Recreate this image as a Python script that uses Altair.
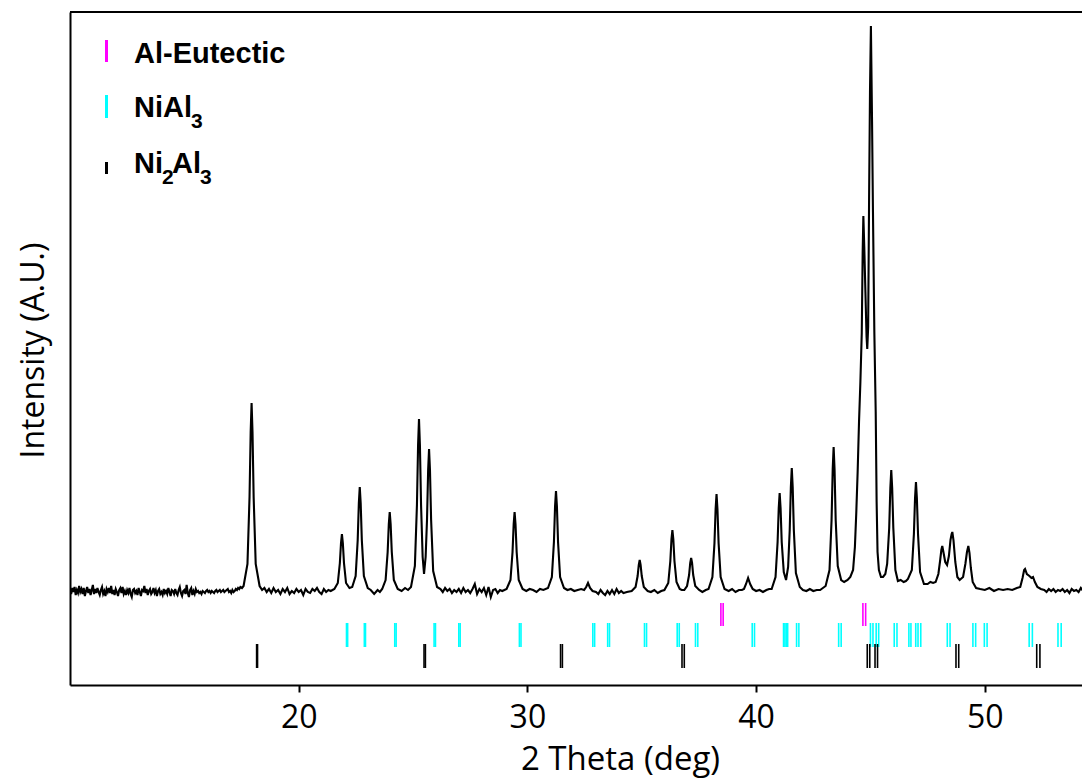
import altair as alt
import pandas as pd

# XRD scan: (2 theta in deg, intensity in arbitrary units)
scan_10_18 = [
    (10.00, 3), (10.05, -2), (10.10, 4), (10.15, 0), (10.20, 5), (10.25, -3), (10.30, 2),
    (10.35, -1), (10.40, 6), (10.45, 0), (10.50, 3), (10.55, -2), (10.60, 4), (10.65, -4),
    (10.70, 1), (10.75, 5), (10.80, -1), (10.85, 3), (10.90, -3), (10.95, 2), (11.00, 7),
    (11.05, -2), (11.10, 3), (11.15, -1), (11.20, 4), (11.25, 0), (11.30, -3), (11.35, 2),
    (11.40, 5), (11.45, -2), (11.50, 1), (11.55, -4), (11.60, 3), (11.65, 0), (11.70, 4),
    (11.75, -1), (11.80, 6), (11.85, -2), (11.90, 2), (11.95, -3), (12.00, 3), (12.05, 0),
    (12.10, -4), (12.15, 2), (12.20, 4), (12.25, -1), (12.30, 5), (12.35, -2), (12.40, 1),
    (12.45, -3), (12.50, 2), (12.55, -1), (12.60, 4), (12.65, -2), (12.70, -5), (12.75, 2),
    (12.80, 3), (12.85, -1), (12.90, 1), (12.95, -3), (13.00, 4), (13.05, 0), (13.10, -4),
    (13.15, 2), (13.20, 1), (13.25, 6), (13.30, -1), (13.35, 3), (13.40, -3), (13.45, 1),
    (13.50, 3), (13.55, -2), (13.60, 0), (13.65, 4), (13.70, -1), (13.75, 2), (13.80, -4),
    (13.85, 1), (13.90, 3), (13.95, -2), (14.00, 0), (14.05, -3), (14.10, 3), (14.15, -1),
    (14.20, 1), (14.25, -2), (14.30, 4), (14.35, 0), (14.40, -4), (14.45, 2), (14.50, 1),
    (14.55, -2), (14.60, 3), (14.65, -1), (14.70, -3), (14.75, 2), (14.80, 5), (14.85, -1),
    (14.90, -4), (14.95, 1), (15.00, 2), (15.05, -2), (15.10, 7), (15.15, -1), (15.20, -5),
    (15.25, 2), (15.30, 4), (15.35, -3), (15.40, 1), (15.45, -2), (15.50, 3), (15.55, 0),
    (15.60, 1), (15.65, -1), (15.70, 0), (15.75, -2), (15.80, 1), (15.85, 0), (15.90, -1),
    (15.95, 1), (16.00, 2), (16.05, 0), (16.10, 1), (16.15, -1), (16.20, 1), (16.25, 0),
    (16.30, -1), (16.35, 1), (16.40, 2), (16.45, 0), (16.50, 1), (16.55, 2), (16.60, 0),
    (16.65, 1), (16.70, 2), (16.75, 0), (16.80, 1), (16.85, 2), (16.90, 3), (16.95, 0),
    (17.00, 1), (17.05, -1), (17.10, 2), (17.15, 0), (17.20, 1), (17.25, 3), (17.30, 2),
    (17.35, 4), (17.40, 3), (17.45, 5), (17.52, 4),
    (17.59, 6), (17.76, 28), (17.85, 95), (17.90, 160), (17.94, 189), (17.98, 160), (18.03, 95),
    (18.12, 28), (18.29, 6),
]
scan_18_26 = [
    (18.40, 2), (18.5, 4), (18.6, 0), (18.7, 3), (18.8, -1), (18.9, 4), (19.0, 0), (19.1, 2),
    (19.2, -2), (19.3, 3), (19.4, 0), (19.5, 4), (19.6, -2), (19.7, 1), (19.8, -1), (19.9, 3),
    (20.0, 0), (20.1, 2), (20.2, -3), (20.3, 3), (20.4, 0), (20.5, -1), (20.6, 3), (20.7, 1),
    (20.8, 4), (20.9, 0), (21.0, -2), (21.1, 3), (21.2, 0), (21.3, 2), (21.4, 1),
    (21.56, 3), (21.71, 9), (21.80, 29), (21.85, 49), (21.89, 58), (21.93, 49), (21.98, 29),
    (22.07, 9), (22.22, 4),
    (22.34, 5), (22.49, 16), (22.58, 52), (22.63, 89), (22.67, 105), (22.71, 89), (22.76, 52),
    (22.85, 16), (23.02, 4),
    (23.15, 2), (23.3, -2), (23.45, 2), (23.55, 0),
    (23.65, 3), (23.80, 12), (23.89, 40), (23.94, 68), (23.98, 80), (24.02, 68), (24.07, 40),
    (24.16, 12), (24.33, 3),
    (24.5, 1), (24.65, 4), (24.78, 2),
    (24.91, 5), (25.08, 26), (25.17, 87), (25.22, 147), (25.26, 173), (25.30, 147), (25.35, 87),
    (25.42, 35), (25.48, 18), (25.55, 35), (25.61, 72), (25.66, 122), (25.70, 143), (25.74, 122),
    (25.79, 72), (25.88, 21), (26.05, 5),
]
scan_26_34 = [
    (26.2, 3), (26.3, 0), (26.4, 4), (26.5, 1), (26.6, 3), (26.7, -1), (26.8, 2), (26.9, 0),
    (27.0, 3), (27.1, -1), (27.2, 4), (27.3, 0), (27.4, 2), (27.5, -1), (27.6, 3), (27.7, 8),
    (27.8, -2), (27.9, 3), (28.0, 0), (28.1, 4), (28.2, -3), (28.3, 5), (28.4, -5), (28.5, 2),
    (28.6, 3), (28.7, -1), (28.8, 2), (28.9, 1),
    (29.09, 3), (29.26, 12), (29.35, 40), (29.40, 68), (29.44, 80), (29.48, 68), (29.53, 40),
    (29.62, 12), (29.79, 3),
    (29.95, 1), (30.1, 3), (30.25, 2), (30.4, 0), (30.55, 3), (30.7, 2),
    (30.90, 4), (31.07, 15), (31.16, 50), (31.21, 86), (31.25, 101), (31.29, 86), (31.34, 50),
    (31.43, 15), (31.60, 4),
    (31.75, 2), (31.9, 3), (32.05, 1), (32.2, 2), (32.35, 3),
    (32.48, 2), (32.57, 5), (32.65, 9), (32.74, 4), (32.85, 1),
    (33.0, 0), (33.1, -2), (33.2, 2), (33.3, -1), (33.4, -3), (33.5, 1), (33.6, -2), (33.7, 2),
    (33.8, -2), (33.9, 3), (34.0, -1), (34.1, 1), (34.2, -1), (34.35, 0),
]
scan_34_42 = [
    (34.56, 1), (34.73, 5), (34.82, 16), (34.87, 27), (34.91, 32), (34.95, 27), (35.00, 16),
    (35.09, 5), (35.26, 1),
    (35.4, 0), (35.55, 2), (35.7, -1), (35.85, 1),
    (35.99, 2), (36.16, 9), (36.25, 31), (36.30, 53), (36.34, 62), (36.38, 53), (36.43, 31),
    (36.52, 10), (36.66, 3), (36.75, 2),
    (36.86, 2), (36.98, 6), (37.07, 17), (37.12, 29), (37.16, 34), (37.20, 29), (37.25, 17),
    (37.34, 6), (37.51, 2),
    (37.65, 0), (37.8, 2),
    (37.92, 3), (38.09, 15), (38.18, 49), (38.23, 83), (38.27, 98), (38.31, 83), (38.36, 49),
    (38.45, 15), (38.62, 3),
    (38.8, 1), (38.95, 3), (39.1, 0), (39.25, 2), (39.38, 2),
    (39.47, 3), (39.56, 8), (39.65, 14), (39.74, 8), (39.85, 3),
    (40.0, 1), (40.15, 2), (40.3, 0), (40.45, 2), (40.57, 3),
    (40.68, 3), (40.85, 15), (40.94, 50), (40.99, 84), (41.03, 99), (41.07, 84), (41.12, 50),
    (41.21, 20), (41.31, 12), (41.40, 25), (41.47, 62), (41.52, 105), (41.56, 124), (41.60, 105),
    (41.65, 62), (41.74, 19), (41.91, 5),
]
scan_42_47 = [
    (42.05, 2), (42.2, 1), (42.35, 3), (42.5, 1), (42.65, 2), (42.8, 2), (42.92, 4),
    (43.04, 6), (43.21, 22), (43.30, 72), (43.35, 123), (43.39, 145), (43.43, 123), (43.48, 72),
    (43.57, 26), (43.72, 12),
    (43.85, 10), (44.0, 12), (44.12, 15), (44.24, 22), (44.32, 45), (44.38, 79), (44.44, 120),
    (44.50, 170), (44.56, 210), (44.62, 259), (44.66, 340), (44.69, 376), (44.73, 345),
    (44.78, 300), (44.83, 255), (44.86, 243), (44.90, 265), (44.94, 392), (44.98, 500),
    (45.02, 566), (45.07, 470), (45.11, 380), (45.17, 260), (45.23, 180), (45.27, 90),
    (45.31, 40), (45.37, 22), (45.46, 15), (45.55, 15),
    (45.65, 18), (45.73, 28), (45.82, 64), (45.87, 104), (45.91, 122), (45.95, 104), (46.00, 64),
    (46.09, 22), (46.20, 11),
    (46.32, 12), (46.45, 10), (46.55, 11),
    (46.64, 13), (46.81, 22), (46.90, 58), (46.95, 94), (46.99, 110), (47.03, 94), (47.08, 58),
    (47.17, 20), (47.34, 8),
]
scan_47_55 = [
    (47.5, 8), (47.62, 10), (47.74, 9),
    (47.85, 10), (47.97, 18), (48.05, 32), (48.10, 42), (48.14, 46), (48.19, 40), (48.27, 30),
    (48.35, 27), (48.43, 36), (48.50, 52), (48.55, 58), (48.58, 60), (48.63, 52), (48.71, 30),
    (48.80, 15), (48.90, 12),
    (49.05, 15), (49.15, 28), (49.22, 40), (49.28, 46), (49.33, 39), (49.39, 24), (49.47, 10),
    (49.62, 4),
    (49.8, 3), (50.0, 2), (50.2, 4), (50.4, 1), (50.6, 3), (50.8, 2), (51.0, 3), (51.2, 2), (51.4, 4),
    (51.55, 5), (51.65, 14), (51.72, 22), (51.76, 23), (51.84, 18), (51.95, 16), (52.04, 14),
    (52.11, 15), (52.19, 10), (52.30, 5), (52.45, 3),
    (52.6, 2), (52.7, 0), (52.8, 3), (52.9, 1), (53.0, 3), (53.1, 0), (53.2, 2), (53.3, 1),
    (53.4, 3), (53.5, 0), (53.6, 2), (53.7, -1), (53.8, 3), (53.9, 1), (54.0, 2), (54.1, 0),
    (54.2, 4), (54.3, 1),
]

# reference reflection positions (2 theta) per phase
al_eutectic = [38.46, 38.56, 44.67, 44.79]
ni_al3 = [
    22.09, 22.14, 22.87, 22.92, 24.20, 24.26, 25.92, 25.98, 27.00, 27.06, 29.65, 29.72,
    32.86, 32.94, 33.51, 33.59, 35.12, 35.21, 36.55, 36.64, 37.35, 37.45, 39.83, 39.93,
    41.20, 41.26, 41.32, 41.38, 41.77, 41.87, 43.61, 43.72, 45.00, 45.11, 45.25, 45.36,
    46.04, 46.16, 46.68, 46.77, 46.98, 47.08, 47.20, 48.36, 48.48, 49.48, 49.60,
    49.98, 50.10, 51.94, 52.08, 53.20, 53.34,
]
ni2_al3 = [
    18.16, 18.20, 25.48, 25.54, 31.45, 31.53, 36.76, 36.86, 44.86, 44.97, 45.20, 45.31,
    48.74, 48.86, 52.27, 52.41,
]

phases = ["Al-Eutectic", "NiAl3", "Ni2Al3"]
phase_colors = ["#ff00ff", "#00ffff", "#000000"]
# vertical band (in intensity units) used by each row of reference ticks
tick_rows = {"Al-Eutectic": (-11, -34), "NiAl3": (-31, -55), "Ni2Al3": (-52, -76)}

W, H = 1012, 673
FONT = "Open Sans"
LEGEND_FONT = "Liberation Sans"

scan = pd.DataFrame(
    scan_10_18 + scan_18_26 + scan_26_34 + scan_34_42 + scan_42_47 + scan_47_55,
    columns=["two_theta", "intensity"],
).sort_values("two_theta")

ticks = pd.DataFrame(
    [
        {"phase": ph, "two_theta": t, "intensity": tick_rows[ph][0], "bottom": tick_rows[ph][1]}
        for ph, vals in zip(phases, [al_eutectic, ni_al3, ni2_al3])
        for t in vals
    ]
)

x_scale = alt.Scale(domain=[10, 10 + W / 22.87], nice=False, zero=False)
y_scale = alt.Scale(domain=[-93, 580], nice=False, zero=False)

x_axis = alt.Axis(
    values=[20, 30, 40, 50],
    format="d",
    tickSize=7,
    labelPadding=10,
    labelFontSize=32,
    title="2 Theta (deg)",
    titleFontSize=33,
    titleFontWeight="normal",
    titleX=550,
    titleY=84,
    titleAlign="center",
    titleBaseline="alphabetic",
)
y_axis = alt.Axis(
    title="Intensity (A.U.)",
    labels=False,
    ticks=False,
    titleFontSize=32,
    titleFontWeight="normal",
    titleAngle=270,
    titleX=-27,
    titleY=338,
    titleAlign="center",
    titleBaseline="alphabetic",
)

pattern = (
    alt.Chart(scan)
    .mark_line(color="black", strokeWidth=2.1, clip=True)
    .encode(
        alt.X("two_theta:Q", scale=x_scale, axis=x_axis),
        alt.Y("intensity:Q", scale=y_scale, axis=y_axis),
    )
)

markers = (
    alt.Chart(ticks)
    .mark_rule(strokeWidth=1.6)
    .encode(
        alt.X("two_theta:Q", scale=x_scale, axis=x_axis),
        alt.Y("intensity:Q", scale=y_scale, axis=y_axis),
        alt.Y2("bottom:Q"),
        alt.Color("phase:N", scale=alt.Scale(domain=phases, range=phase_colors), legend=None),
    )
)

one_row = pd.DataFrame({"k": [0]})

# frame top edge (no right edge in the original crop)
top_edge = (
    alt.Chart(one_row)
    .mark_rule(color="black", strokeWidth=2)
    .encode(x=alt.value(0), x2=alt.value(W), y=alt.value(0))
)


def key_mark(color, y1, y2):
    return (
        alt.Chart(one_row)
        .mark_rule(color=color, strokeWidth=3)
        .encode(x=alt.value(36.5), y=alt.value(y1), y2=alt.value(y2))
    )


def key_text(text, x, y, size=29):
    return (
        alt.Chart(one_row)
        .mark_text(
            text=text,
            align="left",
            baseline="alphabetic",
            font=LEGEND_FONT,
            fontWeight="bold",
            fontSize=size,
            color="black",
        )
        .encode(x=alt.value(x), y=alt.value(y))
    )


# hand-built key so the subscripts can sit below the baseline
key = [
    key_mark(phase_colors[0], 28, 50),
    key_text("Al-Eutectic", 64, 51),
    key_mark(phase_colors[1], 83, 106),
    key_text("NiAl", 64, 105),
    key_text("3", 121, 116, 21),
    key_mark(phase_colors[2], 150, 162),
    key_text("Ni", 64, 161),
    key_text("2", 92, 172, 21),
    key_text("Al", 102, 161),
    key_text("3", 130, 172, 21),
]

chart = (
    alt.layer(pattern, markers, top_edge, *key)
    .properties(
        width=W,
        height=H,
        autosize=alt.AutoSizeParams(type="none"),
        padding={"left": 62, "top": 4, "right": 0, "bottom": 95},
        background="white",
    )
    .configure_view(stroke=None)
    .configure_axis(
        grid=False,
        domainColor="black",
        domainWidth=2,
        tickColor="black",
        tickWidth=2,
        labelColor="black",
        titleColor="black",
        labelFont=FONT,
        titleFont=FONT,
    )
)

chart.save("out.html", embed_options={"renderer": "svg", "actions": False})
